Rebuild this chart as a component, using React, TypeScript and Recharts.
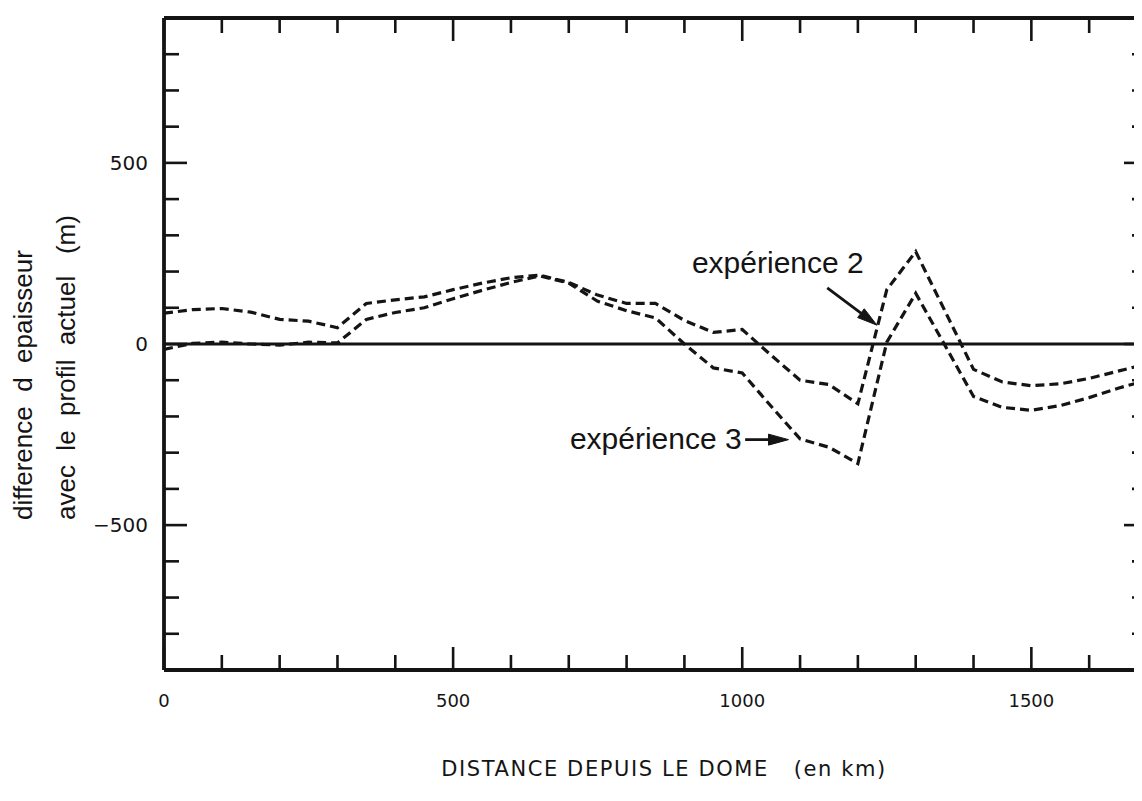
import React from 'react';
import { LineChart, Line, XAxis, YAxis, ReferenceLine, ReferenceDot } from 'recharts';

// distance from the dome (km)
const distances = [0, 50, 100, 150, 200, 250, 300, 350, 400, 450, 500, 550, 600, 650, 700, 750, 800, 850, 900, 950, 1000, 1050, 1100, 1150, 1200, 1250, 1300, 1350, 1400, 1450, 1500, 1550, 1600, 1650, 1700];
// thickness difference (m) – expérience 2
const exp2 = [85, 95, 98, 88, 68, 63, 45, 112, 122, 130, 150, 168, 183, 190, 170, 135, 112, 112, 65, 32, 40, -31, -100, -112, -165, 150, 255, 93, -70, -105, -115, -110, -95, -75, -55];
// thickness difference (m) – expérience 3
const exp3 = [-15, 2, 5, 0, -3, 5, 3, 68, 87, 100, 125, 148, 170, 188, 168, 118, 92, 72, 0, -66, -80, -172, -262, -285, -330, 5, 140, -2, -145, -175, -183, -170, -148, -122, -100];

const xTicks = [0, 100, 200, 300, 400, 500, 600, 700, 800, 900, 1000, 1100, 1200, 1300, 1400, 1500, 1600, 1700];
const yTicks = [-900, -800, -700, -600, -500, -400, -300, -200, -100, 0, 100, 200, 300, 400, 500, 600, 700, 800, 900];
const xLabelTicks = [0, 500, 1000, 1500];
const yLabelTicks = [-500, 0, 500];

const annoTexts = ['expérience 2', 'expérience 3'];
const annoTextX = [913, 702];
const annoTextY = [195, -289];
const arrowFromX = [1147, 1005];
const arrowFromY = [155, -264];
const arrowToX = [1233, 1080];
const arrowToY = [52, -264];

const data = distances.map((d, i) => ({ d, e2: exp2[i], e3: exp3[i] }));

const INK = '#141414';
const MINOR = 15;
const MAJOR = 23;
const TICKW = 2.6;

const BottomTick = (props: any) => {
  const { x, y, payload } = props;
  const v = payload.value;
  const major = xLabelTicks.includes(v);
  return (
    <g>
      <line x1={x} x2={x} y1={y} y2={y - (major ? MAJOR : MINOR)} stroke={INK} strokeWidth={TICKW} />
      {major && (
        <text x={x} y={y + 37} textAnchor="middle" fontFamily="DejaVu Sans" fontSize={18} fill={INK}>
          {v}
        </text>
      )}
    </g>
  );
};

const TopTick = (props: any) => {
  const { x, y, payload } = props;
  const v = payload.value;
  const major = xLabelTicks.includes(v);
  return <line x1={x} x2={x} y1={y} y2={y + (major ? MAJOR : MINOR)} stroke={INK} strokeWidth={TICKW} />;
};

const LeftTick = (props: any) => {
  const { x, y, payload } = props;
  const v = payload.value;
  const major = yLabelTicks.includes(v);
  return (
    <g>
      <line x1={x} x2={x + (major ? MAJOR : MINOR)} y1={y} y2={y} stroke={INK} strokeWidth={TICKW} />
      {major && (
        <text x={x - 16} y={y} textAnchor="end" dominantBaseline="central" fontFamily="DejaVu Sans" fontSize={20} fill={INK}>
          {v === 0 ? '0' : v < 0 ? '\u2212' + Math.abs(v) : String(v)}
        </text>
      )}
    </g>
  );
};

const RightTick = (props: any) => {
  const { x, y, payload } = props;
  const v = payload.value;
  const major = yLabelTicks.includes(v);
  return <line x1={x} x2={x - (major ? MAJOR : MINOR)} y1={y} y2={y} stroke={INK} strokeWidth={TICKW} />;
};

const YTitle = (props: any) => {
  const vb = props.viewBox || { x: 0, y: 0 };
  const bx = vb.x;
  const by = vb.y + 502;
  return (
    <g fontFamily="Liberation Sans" fontSize={26} fill={INK} style={{ whiteSpace: 'pre' }}>
      <text xmlSpace="preserve" x={bx + 24} y={by} transform={`rotate(-90 ${bx + 24} ${by})`} textAnchor="start" fill={INK}>
        {'difference  d  epaisseur'}
      </text>
      <text xmlSpace="preserve" x={bx + 67} y={by} transform={`rotate(-90 ${bx + 67} ${by})`} textAnchor="start" fill={INK}>
        {'avec  le  profil  actuel   (m)'}
      </text>
    </g>
  );
};

const XTitle = (props: any) => {
  const vb = props.viewBox || { x: 0, y: 0, width: 0 };
  return (
    <text
      xmlSpace="preserve"
      x={656}
      y={vb.y + 106}
      textAnchor="middle"
      fontFamily="DejaVu Sans"
      fontSize={21}
      letterSpacing={1.6}
      fill={INK}
      style={{ whiteSpace: 'pre' }}
    >
      {'DISTANCE DEPUIS LE DOME   (en km)'}
    </text>
  );
};

const arrowShape = (props: any) => {
  const { x1, y1, x2, y2 } = props;
  const dx = x2 - x1;
  const dy = y2 - y1;
  const len = Math.sqrt(dx * dx + dy * dy) || 1;
  const ux = dx / len;
  const uy = dy / len;
  const hl = 20;
  const hw = 5.5;
  const bx = x2 - ux * hl;
  const by = y2 - uy * hl;
  const pts = `${x2},${y2} ${bx - uy * hw},${by + ux * hw} ${bx + uy * hw},${by - ux * hw}`;
  return (
    <g>
      <line x1={x1} y1={y1} x2={bx} y2={by} stroke={INK} strokeWidth={2.8} />
      <polygon points={pts} fill={INK} stroke={INK} strokeWidth={1} />
    </g>
  );
};

const makeAnnoLabel = (text: string) => (props: any) => {
  const vb = props.viewBox || { x: 0, y: 0 };
  return (
    <text x={vb.x} y={vb.y} fontFamily="Liberation Sans" fontSize={30} fill={INK}>
      {text}
    </text>
  );
};

export default function App() {
  return (
    <div style={{ width: 1134, height: 785, overflow: 'hidden', background: '#fff' }}>
      <LineChart width={1200} height={780} data={data} margin={{ top: 9, right: 60, bottom: 78, left: 0 }}>
        <XAxis
          dataKey="d"
          type="number"
          domain={[0, 1700]}
          ticks={xTicks}
          interval={0}
          allowDataOverflow
          height={40}
          tickSize={0}
          tickMargin={0}
          tickLine={false}
          tick={<BottomTick />}
          axisLine={{ stroke: INK, strokeWidth: 3.8 }}
          label={{ content: <XTitle /> } as any}
        />
        <XAxis
          xAxisId="top"
          orientation="top"
          dataKey="d"
          type="number"
          domain={[0, 1700]}
          ticks={xTicks}
          interval={0}
          allowDataOverflow
          height={1}
          tickSize={0}
          tickMargin={0}
          tickLine={false}
          tick={<TopTick />}
          axisLine={{ stroke: INK, strokeWidth: 3.8 }}
        />
        <YAxis
          type="number"
          domain={[-900, 900]}
          ticks={yTicks}
          interval={0}
          allowDataOverflow
          width={156}
          tickSize={0}
          tickMargin={0}
          tickLine={false}
          tick={<LeftTick />}
          axisLine={{ stroke: INK, strokeWidth: 3.8 }}
          label={{ content: <YTitle /> } as any}
        />
        <YAxis
          yAxisId="right"
          orientation="right"
          type="number"
          domain={[-900, 900]}
          ticks={yTicks}
          interval={0}
          allowDataOverflow
          width={1}
          tickSize={0}
          tickMargin={0}
          tickLine={false}
          tick={<RightTick />}
          axisLine={{ stroke: INK, strokeWidth: 3.8 }}
        />
        <ReferenceLine y={0} stroke={INK} strokeWidth={3} />
        <Line dataKey="e2" type="linear" stroke={INK} strokeWidth={3.2} strokeDasharray="9 5" dot={false} isAnimationActive={false} />
        <Line
          dataKey="e3"
          xAxisId="top"
          yAxisId="right"
          type="linear"
          stroke={INK}
          strokeWidth={3.2}
          strokeDasharray="9 5"
          dot={false}
          isAnimationActive={false}
        />
        {annoTexts.map((t, i) => (
          <ReferenceLine
            key={'arrow' + i}
            segment={[
              { x: arrowFromX[i], y: arrowFromY[i] },
              { x: arrowToX[i], y: arrowToY[i] },
            ]}
            shape={arrowShape}
          />
        ))}
        {annoTexts.map((t, i) => (
          <ReferenceDot
            key={'txt' + i}
            x={annoTextX[i]}
            y={annoTextY[i]}
            r={0}
            fill="none"
            stroke="none"
            label={{ content: makeAnnoLabel(t) } as any}
          />
        ))}
      </LineChart>
    </div>
  );
}
